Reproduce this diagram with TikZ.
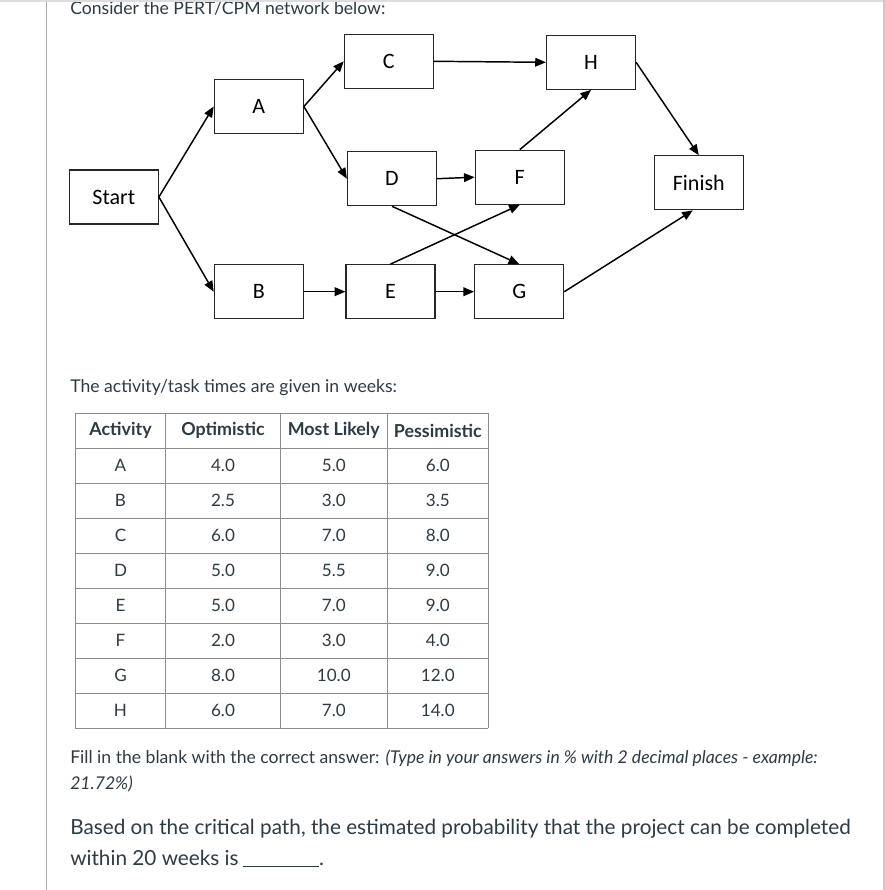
\documentclass[tikz,border=0pt]{standalone}
\usepackage{fontspec}
\setmainfont{Lato}
\newfontfamily\boxfont{Carlito}
\usetikzlibrary{arrows.meta}
\definecolor{txt}{HTML}{2D3B45}
\definecolor{gridc}{HTML}{8C8C8C}
\definecolor{frame}{HTML}{A8A8A8}
\definecolor{band}{HTML}{DCDDE0}
\begin{document}
\begin{tikzpicture}[x=0.75pt,y=-0.75pt,
  box/.style={draw=black!85,line width=0.9pt,minimum width=66.75pt,minimum height=40.5pt,inner sep=0pt,
    font=\boxfont\fontsize{16.5}{19}\selectfont},
  arr/.style={line width=1.1pt,-{Triangle[length=8pt,width=6.5pt]}},
  para/.style={anchor=base west,inner sep=0pt,text=txt,font=\fontsize{13.2}{16}\selectfont},
  big/.style={anchor=base west,inner sep=0pt,text=txt,font=\fontsize{15.55}{18}\selectfont},
  cell/.style={inner sep=0pt,text=txt,font=\fontsize{12.8}{14}\selectfont},
  head/.style={inner sep=0pt,text=txt,font=\bfseries\fontsize{13.4}{15}\selectfont},
  gline/.style={draw=gridc,line width=0.9pt}]
\useasboundingbox (0,0) rectangle (885,890);
\fill[white] (0,0) rectangle (885,890);

% texts
\node[para] (t1) at (70,14) {Consider the PERT/CPM network below:};
\node[para] (t2) at (70,392) {The activity/task times are given in weeks:};
\node[para] (t3) at (70,763) {Fill in the blank with the correct answer: \textit{(Type in your answers in \% with 2 decimal places - example:}};
\node[para] (t4) at (70,789) {\textit{21.72\%)}};
\node[big] (t5) at (70,834) {Based on the critical path, the estimated probability that the project can be completed};
\node[big] (t6) at (70,865) {within 20 weeks is\hspace{3.5pt}\rule[-1.8pt]{57pt}{0.8pt}.};

% network
\node[box] (start) at (113.8,197) {Start};
\node[box] (a) at (258.8,106.5) {A};
\node[box] (b) at (258.8,291.7) {B};
\node[box] (c) at (388.8,61.3) {C};
\node[box] (d) at (392,178.7) {D};
\node[box] (e) at (390.5,291.7) {E};
\node[box] (f) at (519.8,177.2) {F};
\node[box] (g) at (519.2,291.7) {G};
\node[box] (h) at (591,62.3) {H};
\node[box] (finish) at (698.8,182.8) {Finish};

\draw[arr] (start.east) -- (a.west);
\draw[arr] (start.east) -- (b.west);
\draw[arr] (a.east) -- (c.west);
\draw[arr] (a.east) -- (d.west);
\draw[arr] (c.east) -- (h.west);
\draw[arr] (d.east) -- (f.west);
\draw[arr] (d.south) -- (g.north);
\draw[arr] (e.north) -- (f.south);
\draw[arr] (b.east) -- (e.west);
\draw[arr] (e.east) -- (g.west);
\draw[arr] (f.north) -- (h.south);
\draw[arr] (h.east) -- (finish.north);
\draw[arr] (g.east) -- ([xshift=-4.5pt]finish.south);

% table
\foreach \yy in {413.3,448.3,483.3,518.3,553.3,588.3,623.3,658.3,693.3,728.3}
  \draw[gline] (75.3,\yy) -- (488.3,\yy);
\foreach \xx in {75.3,165.7,280.3,387.3,488.3}
  \draw[gline] (\xx,413.3) -- (\xx,728.3);
\node[head] (h1) at (120.5,430.8) {Activity};
\node[head] (h2) at (223,430.8) {Optimistic};
\node[head] (h3) at (333.8,430.8) {Most Likely};
\node[head] (h4) at (437.8,430.8) {Pessimistic};
\foreach \n/\act/\o/\m/\p [count=\i] in {A/A/4.0/5.0/6.0,B/B/2.5/3.0/3.5,C/C/6.0/7.0/8.0,D/D/5.0/5.5/9.0,E/E/5.0/7.0/9.0,F/F/2.0/3.0/4.0,G/G/8.0/10.0/12.0,H/H/6.0/7.0/14.0}{
  \node[cell] (r\i a) at (120.5,430.8+35*\i) {\act};
  \node[cell] (r\i b) at (223,430.8+35*\i) {\o};
  \node[cell] (r\i c) at (333.8,430.8+35*\i) {\m};
  \node[cell] (r\i d) at (437.8,430.8+35*\i) {\p};
}

% frame
\fill[band] (0,0) rectangle (885,2.2);
\draw[frame,line width=0.75pt] (46.3,2.2) -- (46.3,890);
\draw[frame!120!black,line width=1.2pt] (884,0) -- (884,890);
\end{tikzpicture}
\end{document}
